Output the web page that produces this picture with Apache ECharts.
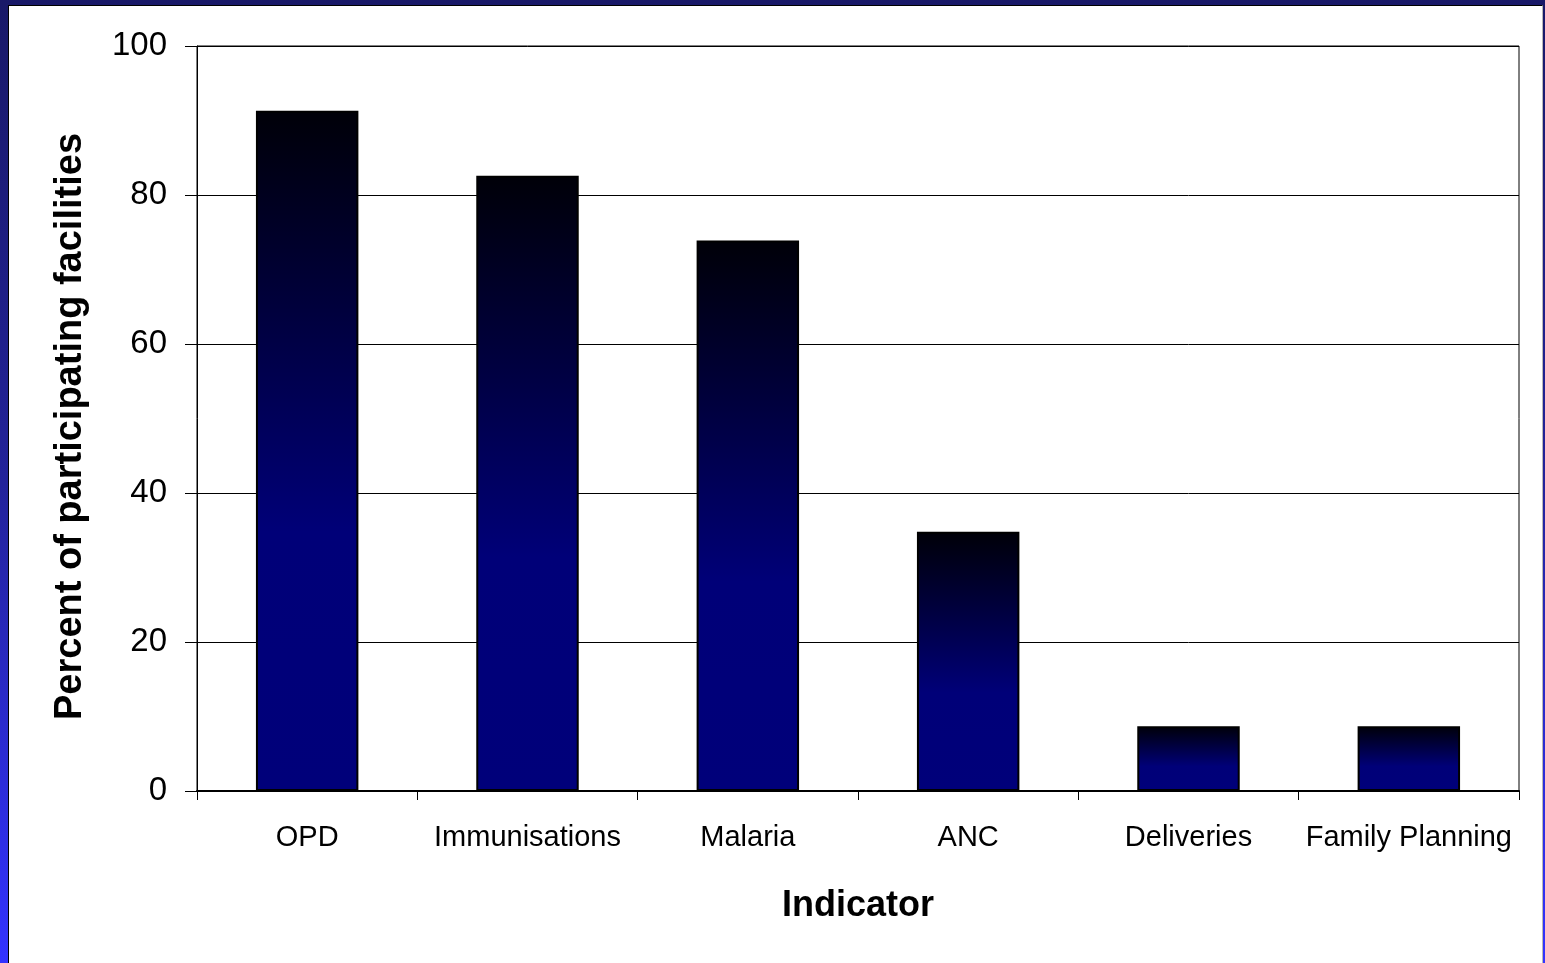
<!DOCTYPE html>
<html>
<head>
<meta charset="utf-8">
<script src="https://cdn.jsdelivr.net/npm/echarts@6/dist/echarts.min.js"></script>
<style>
  html, body { margin: 0; padding: 0; width: 1545px; height: 963px; overflow: hidden; }
  body { background: linear-gradient(to bottom, #191968 0%, #23239a 50%, #3333ff 100%); position: relative; }
  #panel {
    position: absolute; left: 8px; top: 5px; width: 1535px; height: 958px;
    background: #ffffff; border-left: 1px solid #000; border-top: 1px solid #000;
    border-right: 1px solid #b8b8b8; box-sizing: border-box;
  }
  #chart { position: absolute; left: 0; top: 0; width: 1545px; height: 963px; }
</style>
</head>
<body>
<div id="panel"></div>
<div id="chart"></div>
<script>
// Share of participating facilities reporting each indicator
const categories = ['OPD', 'Immunisations', 'Malaria', 'ANC', 'Deliveries', 'Family Planning'];
const percentFacilities = [91.3, 82.6, 73.9, 34.8, 8.7, 8.7];
const yTicks = [0, 20, 40, 60, 80, 100];

const chart = echarts.init(document.getElementById('chart'), null, { renderer: 'canvas' });

const barFill = new echarts.graphic.LinearGradient(0, 0, 0, 1, [
  { offset: 0, color: '#000008' },
  { offset: 0.62, color: '#000078' },
  { offset: 1, color: '#00007a' }
]);

chart.setOption({
  backgroundColor: 'transparent',
  animation: false,
  textStyle: { fontFamily: '"Liberation Sans", Arial, sans-serif', color: '#000' },
  grid: {
    left: 197, top: 46, right: 26, bottom: 172,
    show: true, borderColor: '#000', borderWidth: 1, backgroundColor: 'transparent'
  },
  xAxis: {
    type: 'category',
    data: categories,
    name: 'Indicator',
    nameLocation: 'middle',
    nameGap: 97,
    nameTextStyle: { fontSize: 36, fontWeight: 'bold', color: '#000' },
    axisLine: { show: true, lineStyle: { color: '#000', width: 2 } },
    axisTick: { show: true, alignWithLabel: false, length: 9, lineStyle: { color: '#000', width: 1 } },
    axisLabel: { fontSize: 29, color: '#000', margin: 32, interval: 0 },
    splitLine: { show: false }
  },
  yAxis: {
    type: 'value',
    min: yTicks[0],
    max: yTicks[yTicks.length - 1],
    interval: 20,
    name: 'Percent of participating facilities',
    nameLocation: 'middle',
    nameGap: 107,
    nameRotate: 90,
    nameTextStyle: { fontSize: 38, fontWeight: 'bold', color: '#000', padding: [0, 16, 0, 0] },
    axisLine: { show: true, lineStyle: { color: '#000', width: 1 } },
    axisTick: { show: true, length: 12, lineStyle: { color: '#000', width: 1 } },
    axisLabel: { fontSize: 33, color: '#000', margin: 30 },
    splitLine: { show: true, lineStyle: { color: '#000', width: 1 } }
  },
  series: [{
    type: 'bar',
    data: percentFacilities,
    barWidth: '46.5%',
    itemStyle: { color: barFill, borderColor: '#000', borderWidth: 2 }
  }]
});
</script>
</body>
</html>
